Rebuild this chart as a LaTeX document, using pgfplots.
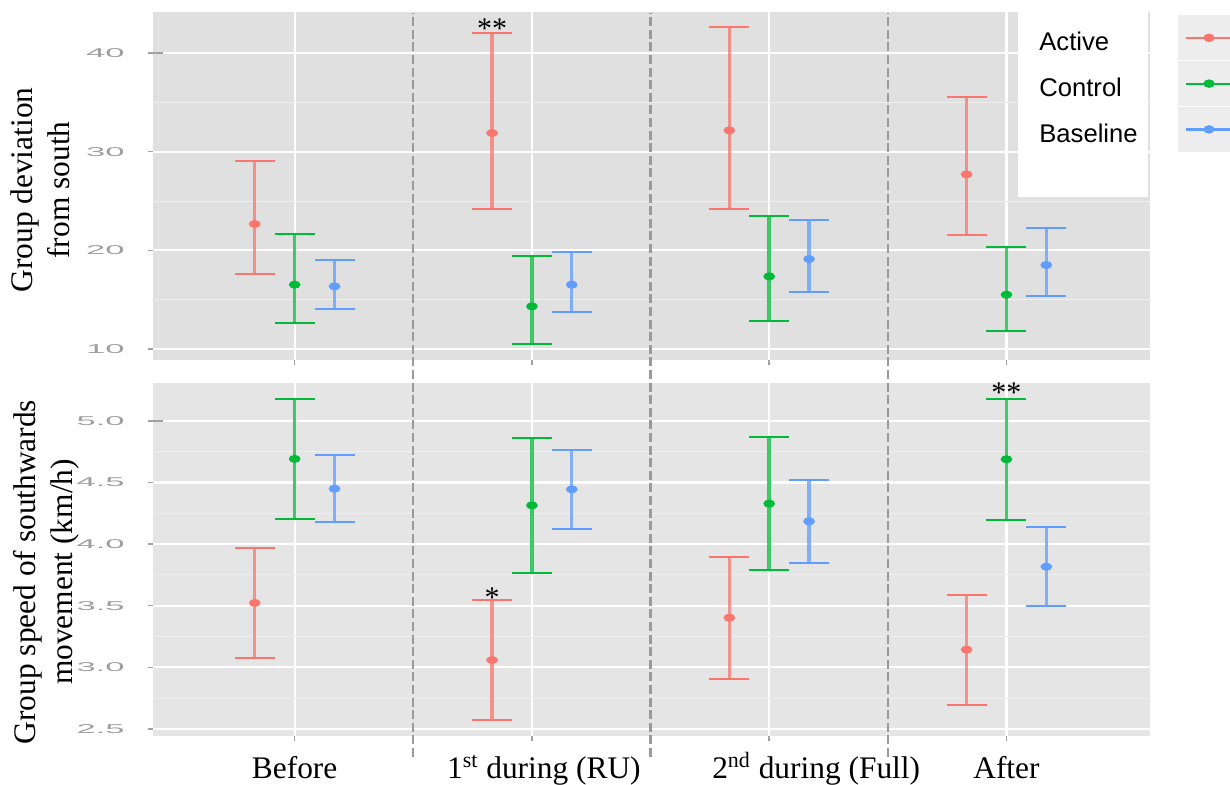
\documentclass[border=0pt]{standalone}
\usepackage{pgfplots}
\pgfplotsset{compat=1.18}
\usepackage{pgfplotstable}
\usepackage{graphicx}
\usepackage{fontspec}
\setmainfont{Liberation Serif}
\newfontfamily\arial{Liberation Sans}

\definecolor{cA}{HTML}{F8766D}
\definecolor{cC}{HTML}{00BA38}
\definecolor{cB}{HTML}{619CFF}
\definecolor{topbg}{HTML}{E0E0E0}
\definecolor{botbg}{HTML}{E5E5E5}
\definecolor{minorg}{HTML}{EEEEEE}
\definecolor{ticklab}{HTML}{9E9E9E}
\definecolor{tickc}{HTML}{A0A0A0}
\definecolor{dashc}{HTML}{9A9A9A}
\definecolor{keybg}{HTML}{EDEDED}

% x: category (1..4) with dodge offsets; y: mean, hi: upper, lo: lower
\pgfplotstableread{
x y hi lo
0.832 22.67 29.01 17.63
1.832 31.89 41.99 24.19
2.832 32.16 42.59 24.22
3.832 27.70 35.50 21.58
}\topA
\pgfplotstableread{
x y hi lo
1 16.52 21.69 12.64
2 14.32 19.46 10.51
3 17.36 23.44 12.80
4 15.50 20.34 11.79
}\topC
\pgfplotstableread{
x y hi lo
1.168 16.35 18.98 14.05
2.168 16.52 19.79 13.75
3.168 19.12 23.10 15.74
4.168 18.51 22.22 15.40
}\topB
\pgfplotstableread{
x y hi lo
0.832 3.523 3.969 3.073
1.832 3.060 3.547 2.573
2.832 3.403 3.899 2.906
3.832 3.144 3.590 2.697
}\botA
\pgfplotstableread{
x y hi lo
1 4.692 5.181 4.205
2 4.315 4.859 3.769
3 4.329 4.867 3.793
4 4.689 5.181 4.196
}\botC
\pgfplotstableread{
x y hi lo
1.168 4.450 4.724 4.177
2.168 4.445 4.761 4.123
3.168 4.185 4.518 3.850
4.168 3.817 4.140 3.495
}\botB

\pgfplotsset{
  panel/.style={
    scale only axis, width=498.5pt, anchor=south west,
    xmin=0.403, xmax=4.605,
    axis line style={draw=none},
    tick align=outside, xtick pos=bottom, ytick pos=left,
    xtick={1,2,3,4},
    major tick length=2.5pt, minor tick length=0pt,
    tick style={color=tickc, line width=0.8pt},
    ytick style={color=tickc, line width=0.7pt, shorten >=-5pt},
    minor tick style={draw=none},
    grid=both,
    major grid style={white, line width=1.1pt},
    minor grid style={minorg, line width=0.5pt},
    minor y tick num=1,
    /pgf/number format/assume math mode=true,
    yticklabel={\scalebox{2.7}[1]{\pgfmathprintnumber{\tick}}},
    yticklabel style={font=\arial\fontsize{6.4}{7}\selectfont, text=ticklab, inner sep=0pt, xshift=-11.5pt},
    ylabel style={align=center, font=\fontsize{15.7}{18.5}\selectfont, inner sep=0pt, anchor=north},
    clip=false,
  },
  ebar/.style={only marks, mark=*, mark size=1.8pt, mark options={xscale=1.5},
    error bars/.cd, y dir=both, y explicit,
    error bar style={line width=1.7pt, opacity=0.75},
    error mark options={rotate=90, line width=1pt, mark size=10pt, opacity=1}},
}

\begin{document}
\begin{tikzpicture}
\path[use as bounding box] (0,0) rectangle (615pt,392pt);

% ---------- top panel ----------
\begin{axis}[panel,
  at={(76.5pt,212pt)}, height=174pt,
  ymin=8.885, ymax=44.155,
  ytick={10,20,30,40},
  axis background/.style={fill=topbg},
  xticklabels={{},{},{},{}},
  ylabel={Group deviation\\from south},
  ylabel style={at={(axis description cs:-0.1434,0.4885)}},
  legend plot pos=right,
  legend cell align=left,
  legend style={at={(axis description cs:0.8676,1)}, anchor=north west,
    draw=none, fill=none, font=\arial\fontsize{12.8}{15}\selectfont,
    inner xsep=8.5pt, inner ysep=1.5pt, row sep=0.5pt, column sep=18pt},
  legend image code/.code={
    \fill[keybg] (-2pt,-8.5pt) rectangle (30pt,13.5pt);
    \draw[line width=1.1pt] (2pt,2.5pt) -- (30pt,2.5pt);
    \fill (13.5pt,2.5pt) ellipse (2.6pt and 1.9pt);
  },
]
\addplot[color=cA, ebar] table[x=x, y=y, y error plus expr=\thisrow{hi}-\thisrow{y}, y error minus expr=\thisrow{y}-\thisrow{lo}] {\topA};
\addlegendentry{Active}
\addplot[color=cC, ebar] table[x=x, y=y, y error plus expr=\thisrow{hi}-\thisrow{y}, y error minus expr=\thisrow{y}-\thisrow{lo}] {\topC};
\addlegendentry{Control}
\addplot[color=cB, ebar] table[x=x, y=y, y error plus expr=\thisrow{hi}-\thisrow{y}, y error minus expr=\thisrow{y}-\thisrow{lo}] {\topB};
\addlegendentry{Baseline}
\fill[white] (axis description cs:0.8676,1) rectangle (axis description cs:0.9983,0.4684);
\node[anchor=base, font=\fontsize{15}{15}\selectfont, inner sep=0pt, yshift=-2.5pt] at (axis cs:1.832,41.99) {**};
\end{axis}

% ---------- bottom panel ----------
\begin{axis}[panel,
  at={(76.5pt,24pt)}, height=176.5pt,
  ymin=2.443, ymax=5.308,
  ytick={2.5,3.0,3.5,4.0,4.5,5.0},
  yticklabel style={/pgf/number format/.cd, fixed, fixed zerofill, precision=1},
  axis background/.style={fill=botbg},
  xticklabels={Before, {\hspace*{12pt}1\textsuperscript{st} during (RU)}, {\hspace*{47pt}2\textsuperscript{nd} during (Full)}, After},
  xticklabel style={font=\fontsize{15.7}{17}\selectfont, inner sep=0pt, anchor=base, yshift=-18.5pt},
  ylabel={Group speed of southwards\\movement (km/h)},
  ylabel style={at={(axis description cs:-0.1404,0.4646)}},
]
\addplot[color=cA, ebar] table[x=x, y=y, y error plus expr=\thisrow{hi}-\thisrow{y}, y error minus expr=\thisrow{y}-\thisrow{lo}] {\botA};
\addplot[color=cC, ebar] table[x=x, y=y, y error plus expr=\thisrow{hi}-\thisrow{y}, y error minus expr=\thisrow{y}-\thisrow{lo}] {\botC};
\addplot[color=cB, ebar] table[x=x, y=y, y error plus expr=\thisrow{hi}-\thisrow{y}, y error minus expr=\thisrow{y}-\thisrow{lo}] {\botB};
\node[anchor=base, font=\fontsize{15}{15}\selectfont, inner sep=0pt, yshift=-4pt] at (axis cs:1.832,3.547) {*};
\node[anchor=base, font=\fontsize{15}{15}\selectfont, inner sep=0pt, yshift=-2pt] at (axis cs:4,5.181) {**};
\draw[dashc, line width=1.2pt, dash pattern=on 4.5pt off 1.8pt]
  ([yshift=-10.5pt]axis cs:1.5,2.443) -- ([yshift=185pt]axis cs:1.5,5.308);
\draw[dashc, line width=1.2pt, dash pattern=on 4.5pt off 1.8pt]
  ([yshift=-10.5pt]axis cs:2.5,2.443) -- ([yshift=185pt]axis cs:2.5,5.308);
\draw[dashc, line width=1.2pt, dash pattern=on 4.5pt off 1.8pt]
  ([yshift=-10.5pt]axis cs:3.5,2.443) -- ([yshift=185pt]axis cs:3.5,5.308);
\end{axis}
\end{tikzpicture}
\end{document}
